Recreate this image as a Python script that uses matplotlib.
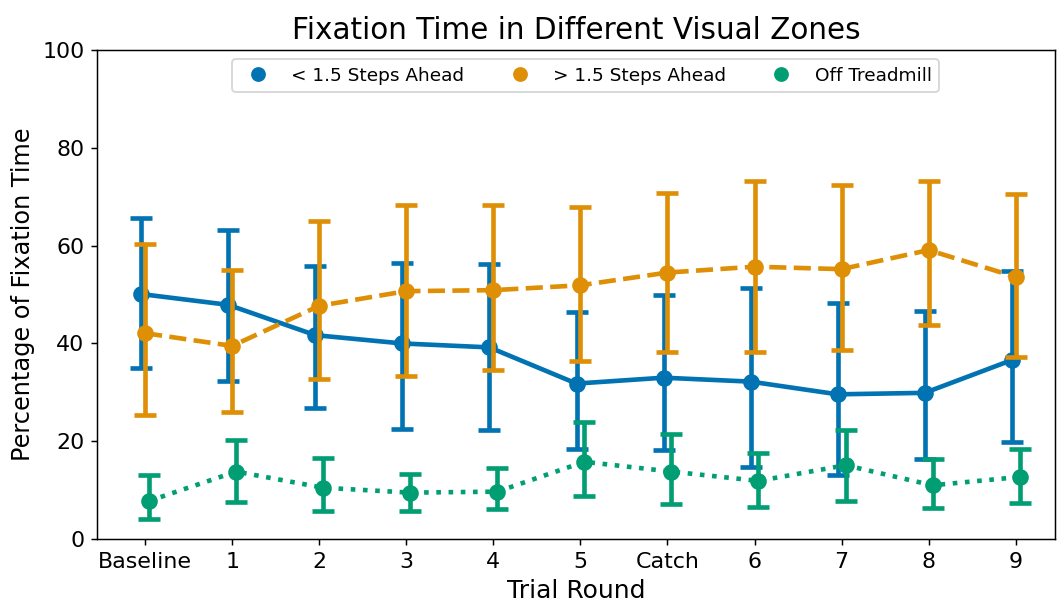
import numpy as np
import matplotlib.pyplot as plt

# trial rounds on the x axis
rounds = ['Baseline', '1', '2', '3', '4', '5', 'Catch', '6', '7', '8', '9']

# < 1.5 steps ahead
near_mean = [50.1, 47.9, 41.7, 40.0, 39.2, 31.8, 33.0, 32.2, 29.6, 29.9, 36.6]
near_hi = [65.6, 63.2, 55.9, 56.5, 56.2, 46.5, 49.9, 51.3, 48.3, 46.7, 54.9]
near_lo = [34.9, 32.4, 26.9, 22.6, 22.4, 18.5, 18.3, 14.8, 13.2, 16.4, 19.9]

# > 1.5 steps ahead
far_mean = [42.1, 39.5, 47.7, 50.7, 50.9, 51.9, 54.5, 55.7, 55.2, 59.1, 53.6]
far_hi = [60.3, 55.0, 65.1, 68.4, 68.4, 68.0, 70.8, 73.2, 72.4, 73.2, 70.6]
far_lo = [25.4, 25.9, 32.7, 33.4, 34.6, 36.4, 38.3, 38.3, 38.7, 43.8, 37.3]

# off treadmill
off_mean = [7.8, 13.8, 10.5, 9.5, 9.7, 15.8, 13.8, 11.9, 15.1, 11.0, 12.7]
off_hi = [13.1, 20.2, 16.6, 13.3, 14.5, 24.0, 21.5, 17.7, 22.3, 16.4, 18.5]
off_lo = [4.1, 7.6, 5.7, 5.7, 6.1, 8.8, 7.2, 6.6, 7.8, 6.3, 7.4]

series = [
    ('< 1.5 Steps Ahead', near_mean, near_lo, near_hi, '#0173b2', '-', -0.045),
    ('> 1.5 Steps Ahead', far_mean, far_lo, far_hi, '#de8f05', '--', 0.0),
    ('Off Treadmill', off_mean, off_lo, off_hi, '#029e73', ':', 0.045),
]

DPI = 133
fig = plt.figure(figsize=(1057 / DPI, 603 / DPI), dpi=DPI)
ax = fig.add_axes([0.092, 0.106, 0.906, 0.811])

x = np.arange(len(rounds))
handles = []
for label, m, lo, hi, color, ls, off in series:
    m = np.array(m)
    err = [m - np.array(lo), np.array(hi) - m]
    ax.errorbar(x + off, m, yerr=err, fmt='none', ecolor=color,
                elinewidth=2.5, capsize=6, capthick=2.5)
    ax.plot(x + off, m, color=color, linestyle=ls, linewidth=2.5,
            marker='o', markersize=8)
    h, = ax.plot([], [], 'o', color=color, markersize=7, label=label)
    handles.append(h)

ax.set_xticks(x)
ax.set_xticklabels(rounds, fontsize=12)
ax.tick_params(axis='y', labelsize=12)
ax.set_xlim(-0.55, 10.45)
ax.set_ylim(0, 100)
ax.set_title('Fixation Time in Different Visual Zones', fontsize=16)
ax.set_xlabel('Trial Round', fontsize=13.5, labelpad=4)
ax.set_ylabel('Percentage of Fixation Time', fontsize=13)
ax.legend(handles=handles, loc='upper center', bbox_to_anchor=(0.51, 1.0),
          ncol=3, fontsize=10)

fig.savefig('out.png', dpi=DPI)
